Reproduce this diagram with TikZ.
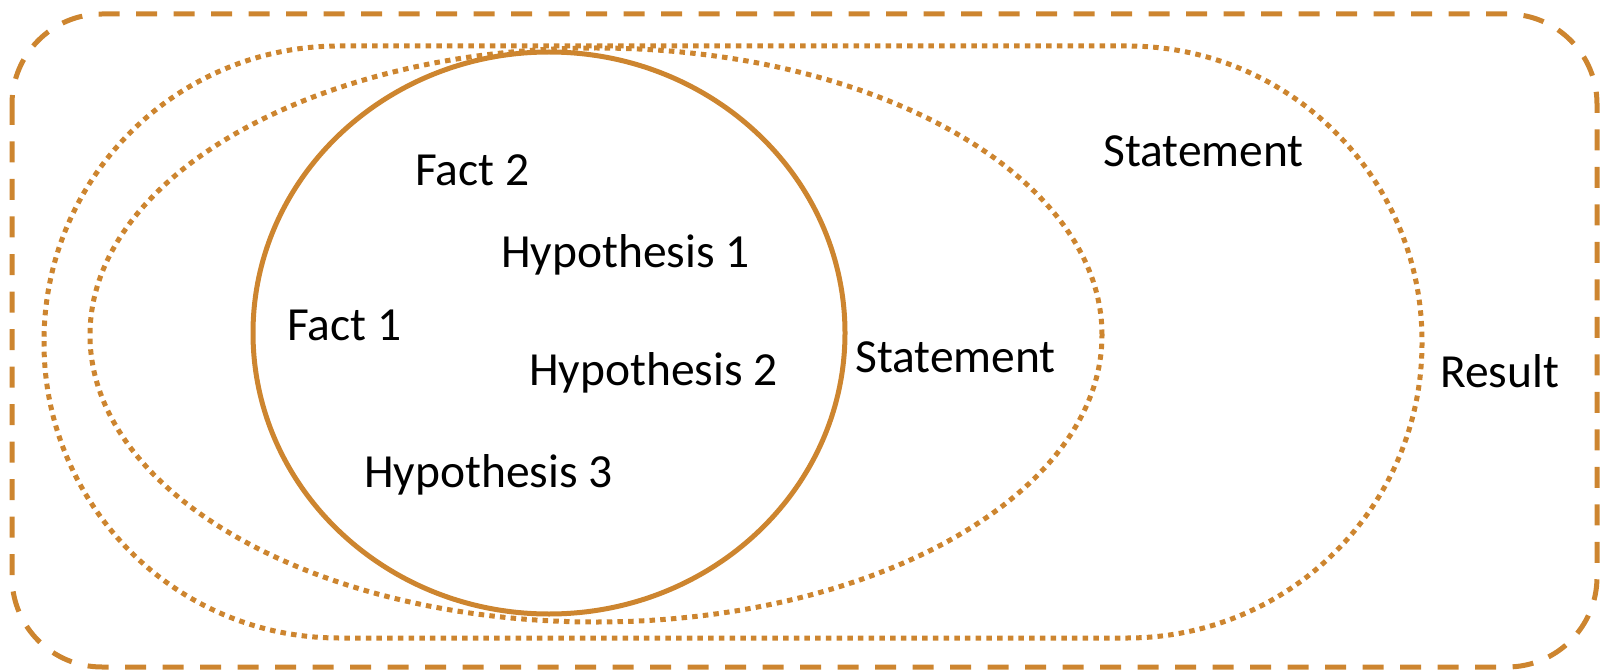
\documentclass[tikz,border=0pt]{standalone}
\usepackage{fontspec}
\setmainfont{Carlito}
\definecolor{accent}{RGB}{205,133,47}
\begin{document}
\begin{tikzpicture}[x=1pt,y=-1pt,
  resdash/.style={draw=accent,line width=5pt,dash pattern=on 21pt off 16.5pt},
  dotline/.style={draw=accent,line width=5pt,dash pattern=on 5.5pt off 5.2pt},
  solidline/.style={draw=accent,line width=5pt},
  lbl/.style={anchor=base west,inner sep=0pt,font=\fontsize{47.5}{57}\selectfont}]
\useasboundingbox (0,0) rectangle (1601,671);
% outer dashed frame
\draw[resdash,rounded corners=90pt] (12,14) rectangle (1597,667);
% Result stadium (dotted)
\draw[dotline,rounded corners=295pt] (44,46) rectangle (1422,638);
% Statement ellipse (dotted)
\draw[dotline] (596,335) ellipse [x radius=506pt, y radius=287pt];
% inner solid circle
\draw[solidline] (549,333) ellipse [x radius=296pt, y radius=281pt];
% labels
\node[lbl] (fact2) at (415,185.7) {Fact 2};
\node[lbl] (fact1) at (287,340) {Fact 1};
\node[lbl] (hyp1) at (501,267) {Hypothesis 1};
\node[lbl] (hyp2) at (529,385.7) {Hypothesis 2};
\node[lbl] (hyp3) at (364,487) {Hypothesis 3};
\node[lbl] (stmt1) at (855,372.3) {Statement};
\node[lbl] (stmt2) at (1103,167) {Statement};
\node[lbl] (result) at (1440,387) {Result};
\end{tikzpicture}
\end{document}
